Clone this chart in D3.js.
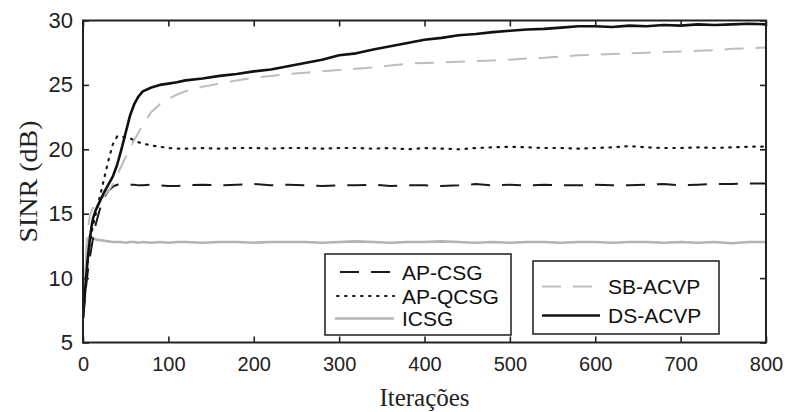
<!DOCTYPE html>
<html>
<head>
<meta charset="utf-8">
<script src="https://cdn.jsdelivr.net/npm/d3@7"></script>
<style>
  body { margin: 0; background: #fff; }
  .tick-label { font-family: "Liberation Sans", Arial, sans-serif; font-size: 20px; fill: #222; }
  .ytick-label { font-size: 22px; }
  .axis-title { font-family: "Liberation Serif", "Times New Roman", serif; font-size: 25px; fill: #222; }
  .legend-text { font-family: "Liberation Sans", Arial, sans-serif; font-size: 21px; fill: #111; }
</style>
</head>
<body>
<div id="chart"></div>
<script>
// Iteration points (x) shared by all curves
var iters = [0,2,4,6,8,10,12,15,20,25,30,35,40,45,50,55,60,65,70,80,90,100,110,120,140,160,180,
  200,220,240,260,280,300,320,340,360,380,400,420,440,460,480,500,520,540,560,580,600,620,640,660,680,700,720,740,760,780,800];

// SINR values (dB)
var apCsg = [6.9,8.3,9.6,10.7,11.6,12.4,13.2,14.2,15.4,16.3,16.8,17.1,17.25,17.3,17.3,17.25,17.25,17.2,17.2,17.25,17.2,17.15,17.15,17.2,17.25,17.2,17.25,
  17.3,17.2,17.25,17.2,17.15,17.2,17.2,17.25,17.15,17.2,17.2,17.15,17.2,17.3,17.2,17.25,17.2,17.25,17.2,17.2,17.25,17.2,17.2,17.25,17.3,17.2,17.25,17.3,17.3,17.35,17.35];
var apQcsg = [6.9,8.8,10.3,11.6,12.7,13.5,14.2,15.0,16.4,17.8,19.2,20.4,21.0,21.0,20.9,20.85,20.7,20.55,20.45,20.3,20.2,20.1,20.05,20.05,20.1,20.05,20.1,
  20.1,20.05,20.1,20.1,20.05,20.1,20.1,20.05,20.1,20.0,20.1,20.05,20.0,20.1,20.15,20.2,20.15,20.1,20.1,20.05,20.1,20.15,20.25,20.15,20.1,20.1,20.15,20.1,20.15,20.2,20.2];
var icsg = [6.9,9.5,11.6,12.9,13.3,13.2,13.1,13.0,12.95,12.9,12.85,12.8,12.8,12.8,12.75,12.8,12.8,12.75,12.8,12.75,12.8,12.75,12.8,12.8,12.75,12.8,12.8,
  12.75,12.8,12.8,12.8,12.75,12.8,12.85,12.8,12.75,12.8,12.8,12.85,12.8,12.75,12.8,12.75,12.8,12.8,12.75,12.8,12.8,12.75,12.8,12.8,12.75,12.8,12.75,12.8,12.7,12.8,12.8];
var sbAcvp = [6.9,10.0,12.5,14.0,14.8,15.2,15.5,15.8,16.1,16.4,16.8,17.3,18.0,18.7,19.4,20.1,20.7,21.3,21.9,22.9,23.5,23.9,24.25,24.5,24.85,25.1,25.35,
  25.55,25.7,25.85,25.95,26.05,26.15,26.25,26.35,26.5,26.65,26.7,26.75,26.8,26.85,26.9,26.95,27.05,27.1,27.2,27.3,27.35,27.4,27.45,27.5,27.55,27.6,27.65,27.7,27.8,27.85,27.9];
var dsAcvp = [6.9,8.6,10.3,11.8,13.0,14.0,14.7,15.3,16.0,16.7,17.3,17.9,18.8,20.0,21.3,22.6,23.5,24.1,24.5,24.8,25.0,25.1,25.2,25.35,25.5,25.7,25.85,
  26.05,26.2,26.45,26.7,26.95,27.3,27.45,27.75,28.0,28.25,28.5,28.65,28.85,28.95,29.1,29.2,29.3,29.35,29.45,29.55,29.55,29.5,29.6,29.55,29.65,29.6,29.7,29.65,29.7,29.75,29.7];

var xTicks = [0,100,200,300,400,500,600,700,800];
var yTicks = [5,10,15,20,25,30];

var svgWidth = 787;
var svgHeight = 412;
var margin = {top: 20.5, right: 21, bottom: 69.5, left: 83};
var chartWidth = svgWidth - margin.left - margin.right;
var chartHeight = svgHeight - margin.top - margin.bottom;

var svg = d3.select("#chart")
  .append("svg")
  .attr("width", svgWidth)
  .attr("height", svgHeight);

var g = svg.append("g")
  .attr("transform", `translate(${margin.left},${margin.top})`);

var xScale = d3.scaleLinear().domain([0, 800]).range([0, chartWidth]);
var yScale = d3.scaleLinear().domain([5, 30]).range([chartHeight, 0]);

var line = d3.line()
  .x(function(d) { return xScale(d[0]); })
  .y(function(d) { return yScale(d[1]); });

// curve styles
var series = [
  {name: "ICSG", values: icsg, color: "#b4b4b4", width: 2.6, dash: null},
  {name: "AP-CSG", values: apCsg, color: "#1a1a1a", width: 2, dash: "19,12"},
  {name: "AP-QCSG", values: apQcsg, color: "#1a1a1a", width: 2.2, dash: "1.6,6.4"},
  {name: "SB-ACVP", values: sbAcvp, color: "#bdbdbd", width: 2, dash: "19,12"},
  {name: "DS-ACVP", values: dsAcvp, color: "#111", width: 2.6, dash: null}
];

var clip = g.append("clipPath").attr("id", "plotclip")
  .append("rect").attr("width", chartWidth).attr("height", chartHeight);

series.forEach(function(s) {
  g.append("path")
    .datum(iters.map(function(x, i) { return [x, s.values[i]]; }))
    .attr("d", line)
    .attr("clip-path", "url(#plotclip)")
    .attr("fill", "none")
    .attr("stroke", s.color)
    .attr("stroke-width", s.width)
    .attr("stroke-dasharray", s.dash)
    .attr("stroke-linecap", s.dash && s.dash.indexOf("1.6") === 0 ? "round" : "butt")
    .attr("stroke-linejoin", "round");
});

// axes (ticks inside, on all four sides)
var tickLen = 6;
g.append("g")
  .attr("transform", `translate(0,${chartHeight})`)
  .call(d3.axisBottom(xScale).tickValues(xTicks).tickSizeInner(-tickLen).tickSizeOuter(0).tickFormat(d3.format("d")))
  .call(function(a) {
    a.select(".domain").remove();
    a.selectAll("text").attr("class", "tick-label").attr("y", 14).attr("dy", "0.71em");
  });
g.append("g")
  .call(d3.axisTop(xScale).tickValues(xTicks).tickSizeInner(-tickLen).tickSizeOuter(0).tickFormat(""))
  .call(function(a) { a.select(".domain").remove(); });
g.append("g")
  .call(d3.axisLeft(yScale).tickValues(yTicks).tickSizeInner(-tickLen).tickSizeOuter(0))
  .call(function(a) {
    a.select(".domain").remove();
    a.selectAll("text").attr("class", "tick-label ytick-label").attr("x", -10);
  });
g.append("g")
  .attr("transform", `translate(${chartWidth},0)`)
  .call(d3.axisRight(yScale).tickValues(yTicks).tickSizeInner(-tickLen).tickSizeOuter(0).tickFormat(""))
  .call(function(a) { a.select(".domain").remove(); });
g.selectAll(".tick line").attr("stroke", "#222").attr("stroke-width", 1.6);

g.append("rect")
  .attr("width", chartWidth)
  .attr("height", chartHeight)
  .attr("fill", "none")
  .attr("stroke", "#222")
  .attr("stroke-width", 2);

// axis titles
g.append("text")
  .attr("class", "axis-title")
  .attr("text-anchor", "middle")
  .attr("transform", `translate(${chartWidth / 2},${chartHeight + 63})`)
  .text("Iterações");

g.append("text")
  .attr("class", "axis-title")
  .attr("text-anchor", "middle")
  .attr("transform", `translate(-46,${chartHeight / 2}) rotate(-90) scale(1.12,1)`)
  .text("SINR (dB)");

// legends
function drawLegend(x, y, w, h, items) {
  var lg = svg.append("g").attr("transform", `translate(${x},${y})`);
  lg.append("rect")
    .attr("width", w).attr("height", h)
    .attr("fill", "#fff").attr("stroke", "#2a2a2a").attr("stroke-width", 1.6);
  items.forEach(function(it) {
    var s = series.find(function(d) { return d.name === it.name; });
    lg.append("line")
      .attr("x1", it.x1).attr("x2", it.x2).attr("y1", it.y).attr("y2", it.y)
      .attr("stroke", s.color).attr("stroke-width", s.width)
      .attr("stroke-dasharray", s.dash)
      .attr("stroke-linecap", s.dash && s.dash.indexOf("1.6") === 0 ? "round" : "butt");
    lg.append("text")
      .attr("class", "legend-text")
      .attr("x", it.tx).attr("y", it.y).attr("dy", "0.36em")
      .text(it.name);
  });
}

drawLegend(325, 254, 186, 81, [
  {name: "AP-CSG", x1: 15, x2: 68, y: 18, tx: 77},
  {name: "AP-QCSG", x1: 12, x2: 69, y: 42, tx: 77},
  {name: "ICSG", x1: 10, x2: 69, y: 64.5, tx: 77}
]);
drawLegend(533, 261, 186, 73, [
  {name: "SB-ACVP", x1: 9, x2: 67, y: 25.5, tx: 75},
  {name: "DS-ACVP", x1: 9, x2: 67, y: 54.5, tx: 75}
]);
</script>
</body>
</html>
